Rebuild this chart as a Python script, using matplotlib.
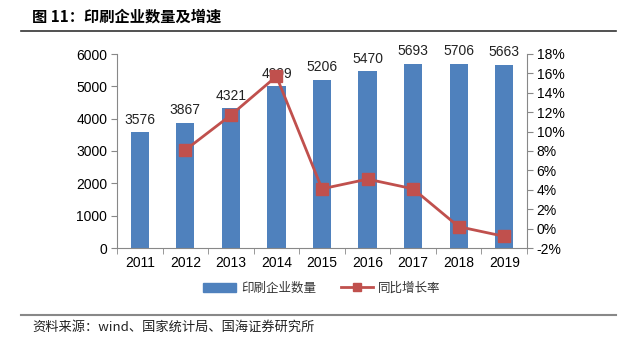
import matplotlib
matplotlib.use('Agg')
import matplotlib.pyplot as plt
from matplotlib.ticker import FuncFormatter, FixedLocator
import numpy as np

plt.rcParams['font.family'] = ['Liberation Sans', 'Noto Sans CJK SC', 'DejaVu Sans']

years = ['2011', '2012', '2013', '2014', '2015', '2016', '2017', '2018', '2019']
firms = [3576, 3867, 4321, 4999, 5206, 5470, 5693, 5706, 5663]
# 同比增长率 (%), no value for 2011
growth = [np.nan, 8.1, 11.7, 15.7, 4.1, 5.1, 4.1, 0.2, -0.8]

bar_color = '#4F81BD'
line_color = '#C0504D'
cjk = ['Noto Sans CJK SC', 'DejaVu Sans']

fig = plt.figure(figsize=(6.35, 3.4), dpi=100)
W, H = 635, 340

# plot area in pixels: left 117, right 527, top 54, bottom 248
ax = fig.add_axes([117 / W, 1 - 248 / H, (527 - 117) / W, (248 - 54) / H])
x = np.arange(len(years))
ax.bar(x, firms, width=0.4, color=bar_color, zorder=2)
for xi, v in zip(x, firms):
    ax.text(xi, v + 170, str(v), ha='center', va='bottom', fontsize=10, color='#222222', zorder=5)

ax.set_xlim(-0.5, len(years) - 0.5)
ax.set_ylim(0, 6000)
ax.set_yticks(range(0, 6001, 1000))
ax.set_xticks(x)
ax.set_xticklabels(years)
ax.xaxis.set_minor_locator(FixedLocator(np.arange(-0.5, len(years), 1)))
ax.tick_params(axis='x', which='major', length=0, labelsize=10, pad=6)
ax.tick_params(axis='x', which='minor', length=4, color='#888888', direction='out')
ax.tick_params(axis='y', length=4, color='#888888', labelsize=10, pad=3)
for s in ['top', 'right']:
    ax.spines[s].set_visible(False)
for s in ['left', 'bottom']:
    ax.spines[s].set_color('#888888')

ax2 = ax.twinx()
ax2.plot(x, growth, color=line_color, lw=2, marker='s', ms=8, zorder=4)
ax2.set_ylim(-2, 18)
ax2.set_yticks(range(-2, 19, 2))
ax2.yaxis.set_major_formatter(FuncFormatter(lambda v, p: f'{int(v)}%'))
ax2.tick_params(axis='y', length=4, color='#888888', labelsize=10, pad=3)
for s in ['top', 'left', 'bottom']:
    ax2.spines[s].set_visible(False)
ax2.spines['right'].set_color('#888888')

# legend
h1 = plt.Rectangle((0, 0), 1, 1, color=bar_color)
h2, = ax2.plot([], [], color=line_color, lw=2, marker='s', ms=6)
fig.legend([h1, h2], ['印刷企业数量', '同比增长率'], loc='center',
           bbox_to_anchor=(322 / W, 1 - 288 / H), ncol=2, frameon=False,
           prop={'family': cjk, 'size': 9}, handlelength=2.6, columnspacing=2.0,
           handletextpad=0.4, labelcolor='#333333')

# title and source
fig.text(32 / W, 1 - 17 / H, '图 11：印刷企业数量及增速', fontsize=11, fontweight='bold',
         family=cjk, va='center', ha='left')
fig.add_artist(plt.Line2D([21 / W, 616 / W], [1 - 31 / H, 1 - 31 / H], color='#333333', lw=1.2))
fig.add_artist(plt.Line2D([21 / W, 616 / W], [1 - 315 / H, 1 - 315 / H], color='#888888', lw=1.5))
fig.text(32 / W, 1 - 327 / H, '资料来源：wind、国家统计局、国海证券研究所', fontsize=9.5,
         family=cjk, va='center', ha='left', color='#222222')

fig.savefig('out.png', dpi=100)
